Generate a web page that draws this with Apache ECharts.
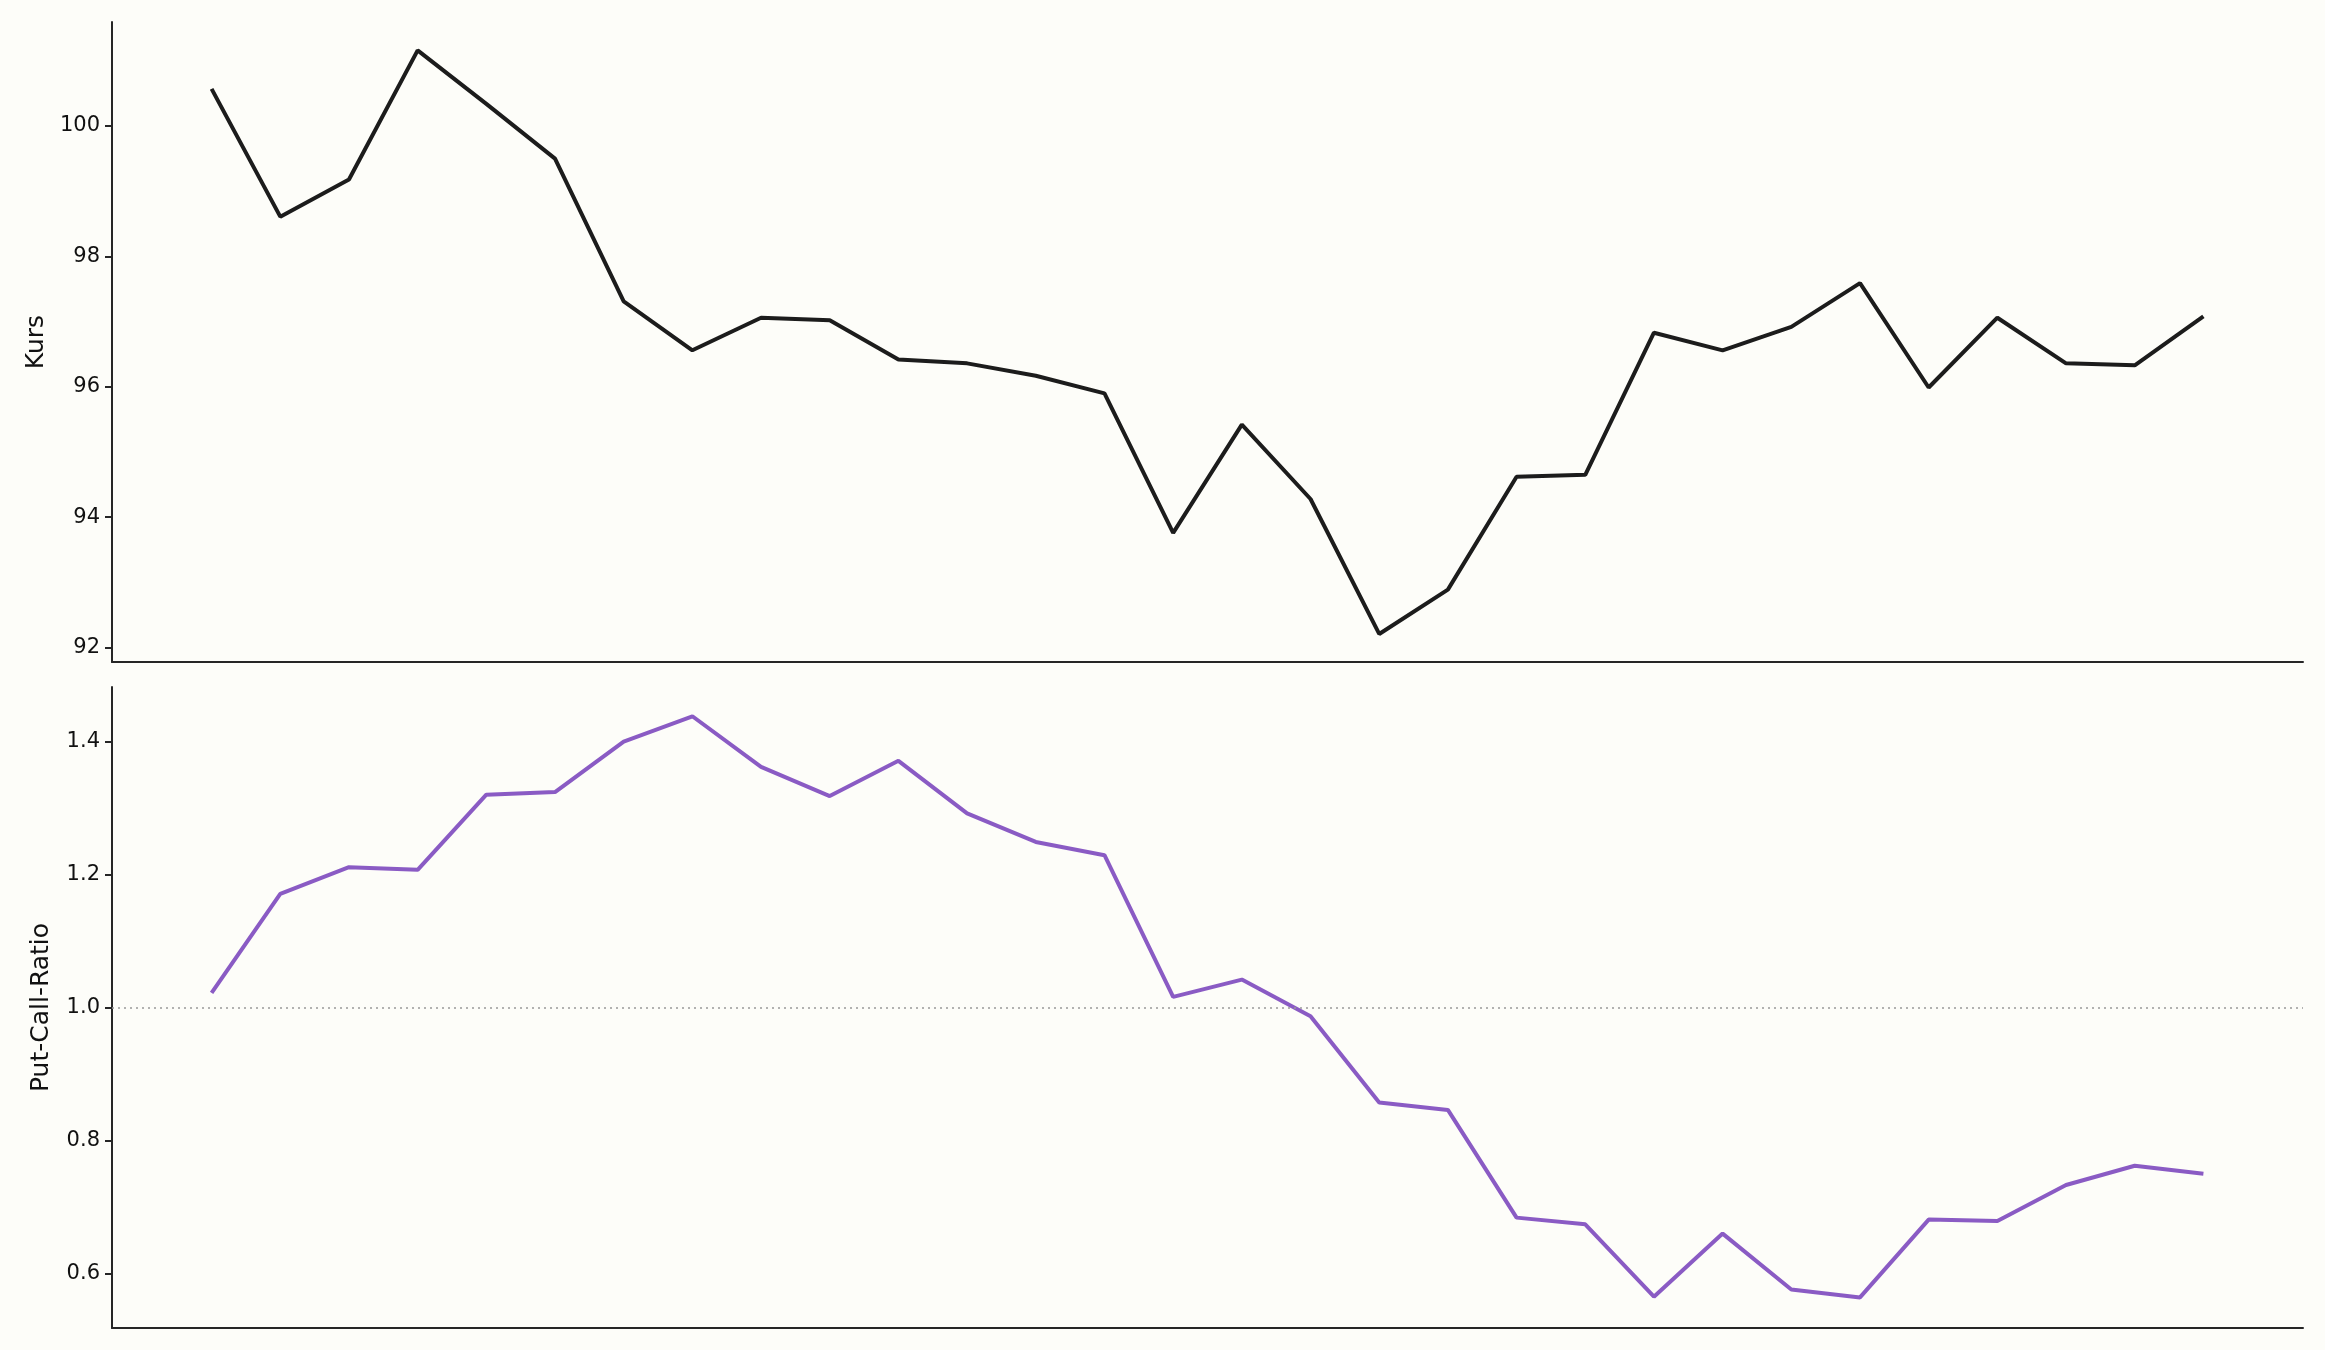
<!DOCTYPE html>
<html>
<head>
<meta charset="utf-8">
<script src="https://cdn.jsdelivr.net/npm/echarts@6/dist/echarts.min.js"></script>
<style>
html,body{margin:0;padding:0;background:#fdfdf9;}
#c{width:2325px;height:1350px;}
</style>
</head>
<body>
<div id="c"></div>
<script>
const kurs = [100.57, 98.61, 99.18, 101.16, 100.34, 99.50, 97.31, 96.56, 97.06, 97.02,
              96.42, 96.36, 96.17, 95.90, 93.76, 95.42, 94.28, 92.21, 92.89, 94.62,
              94.65, 96.83, 96.56, 96.92, 97.59, 95.99, 97.06, 96.36, 96.33, 97.08];
const pcr = [1.022, 1.171, 1.211, 1.207, 1.320, 1.324, 1.400, 1.438, 1.362, 1.318,
             1.371, 1.292, 1.249, 1.229, 1.016, 1.042, 0.987, 0.857, 0.846, 0.684,
             0.674, 0.565, 0.660, 0.576, 0.564, 0.681, 0.679, 0.733, 0.762, 0.750];
const kursTicks = [92, 94, 96, 98, 100];
const pcrTicks = [0.6, 0.8, 1.0, 1.2, 1.4];
const refLevel = 1.0;

const n = kurs.length;
const xMin = -0.05 * (n - 1), xMax = (n - 1) * 1.05;
const font = 'DejaVu Sans';
const axisColor = '#262626';

function xAx(gi){
  return {type:'value', gridIndex:gi, min:xMin, max:xMax,
    axisLine:{show:true, onZero:false, lineStyle:{color:axisColor, width:2}},
    axisTick:{show:false}, axisLabel:{show:false}, splitLine:{show:false}};
}
function yAx(gi, mn, mx, ticks, name, fmt, gap){
  return {type:'value', gridIndex:gi, min:mn, max:mx, position:'left',
    name:name, nameLocation:'middle', nameGap:gap, nameRotate:90,
    nameTextStyle:{fontFamily:font, fontSize:25, color:'#111'},
    axisLine:{show:true, onZero:false, lineStyle:{color:axisColor, width:2}},
    axisTick:{show:true, length:7, customValues:ticks, lineStyle:{color:axisColor, width:2}},
    axisLabel:{show:true, customValues:ticks, fontFamily:font, fontSize:21, color:'#111', margin:12,
      formatter:fmt},
    splitLine:{show:false}};
}

const chart = echarts.init(document.getElementById('c'));
chart.setOption({
  backgroundColor:'#fdfdf9',
  animation:false,
  grid:[
    {left:112, right:22, top:22, height:640},
    {left:112, right:22, top:687, height:641}
  ],
  xAxis:[xAx(0), xAx(1)],
  yAxis:[
    yAx(0, 91.78, 101.595, kursTicks, 'Kurs', v => String(Math.round(v)), 62),
    yAx(1, 0.518, 1.482, pcrTicks, 'Put-Call-Ratio', v => v.toFixed(1), 58)
  ],
  series:[
    {type:'line', xAxisIndex:0, yAxisIndex:0, data:kurs.map((v,i)=>[i,v]),
     showSymbol:false, lineStyle:{color:'#1c1c1c', width:4}, z:3},
    {type:'line', xAxisIndex:1, yAxisIndex:1, data:pcr.map((v,i)=>[i,v]),
     showSymbol:false, lineStyle:{color:'#8a5bc4', width:4}, z:3,
     markLine:{silent:true, symbol:['none','none'], label:{show:false},
       lineStyle:{color:'#999999', type:[2,4], width:1.5},
       data:[{yAxis:refLevel}]}}
  ]
});
</script>
</body>
</html>
